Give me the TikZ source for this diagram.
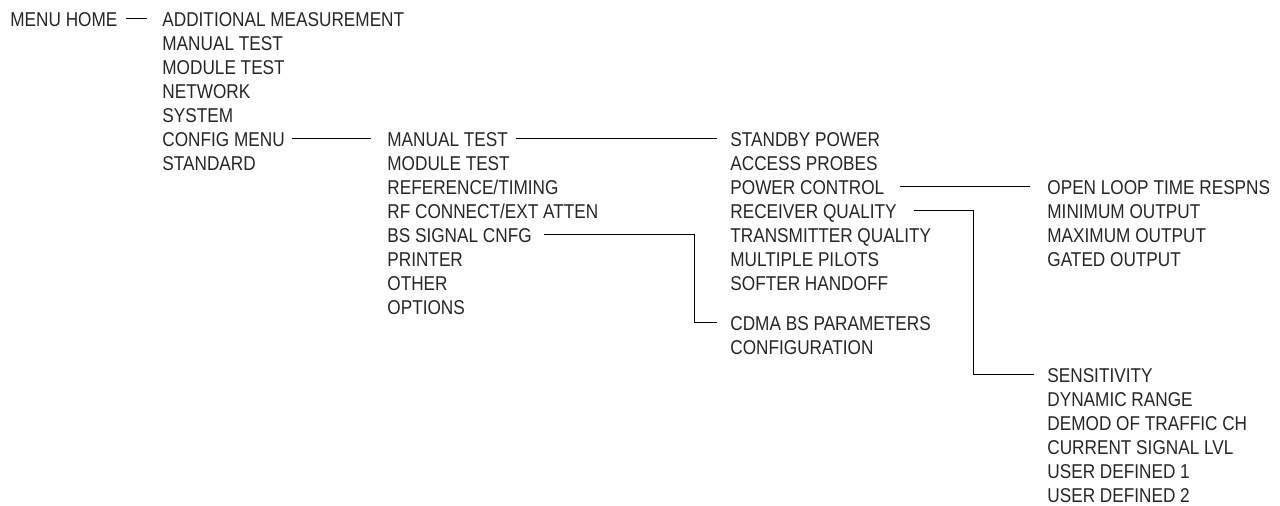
\documentclass[tikz,border=0pt]{standalone}
\usepackage{fontspec}
\setmainfont{Liberation Sans}[FakeStretch=0.86]
\tikzset{
  item/.style={anchor=west, inner sep=0pt, text height=0.72em, text depth=0pt,
    text=black!85, font=\fontsize{10pt}{12pt}\selectfont},
  link/.style={line width=0.5pt, shorten <=4pt, shorten >=7pt}
}
\begin{document}
\begin{tikzpicture}[x=0.5pt, y=-0.5pt]
\useasboundingbox (0,0) rectangle (1280,506);
\node[item] (home) at (10,19) {MENU HOME};
\foreach \t [count=\i from 0] in {ADDITIONAL MEASUREMENT, MANUAL TEST, MODULE TEST, NETWORK, SYSTEM, CONFIG MENU, STANDARD}
{
    \node[item] (main\i) at (162,{19+24*\i}) {\t};
}
\foreach \t [count=\i from 5] in {MANUAL TEST, MODULE TEST, REFERENCE/TIMING, RF CONNECT/EXT ATTEN, BS SIGNAL CNFG, PRINTER, OTHER, OPTIONS}
{
    \node[item] (cfg\i) at (387,{19+24*\i}) {\t};
}
\foreach \t [count=\i from 5] in {STANDBY POWER, ACCESS PROBES, POWER CONTROL, RECEIVER QUALITY, TRANSMITTER QUALITY, MULTIPLE PILOTS, SOFTER HANDOFF}
{
    \node[item] (test\i) at (730,{19+24*\i}) {\t};
}
\node[item] (cdma) at (730,323) {CDMA BS PARAMETERS};
\node[item] (conf) at (730,347) {CONFIGURATION};
\foreach \t [count=\i from 7] in {OPEN LOOP TIME RESPNS, MINIMUM OUTPUT, MAXIMUM OUTPUT, GATED OUTPUT}
{
    \node[item] (pwr\i) at (1047,{19+24*\i}) {\t};
}
\foreach \t [count=\i from 0] in {SENSITIVITY, DYNAMIC RANGE, DEMOD OF TRAFFIC CH, CURRENT SIGNAL LVL, USER DEFINED 1, USER DEFINED 2}
{
    \node[item] (rx\i) at (1047,{375+24*\i}) {\t};
}

% connectors
\coordinate (jogA) at (694,0);
\coordinate (jogB) at (973,0);
\draw[link, shorten >=7.5pt] (home.east) -- (main0.west);
\draw[link, shorten <=3.5pt, shorten >=8pt] (main5.east) -- (cfg5.west);
\draw[link, shorten >=6.5pt] (cfg5.east) -- (test5.west);
\draw[link, shorten <=6pt, shorten >=6.5pt] (cfg9.east) -| (jogA |- cdma.west) -- (cdma.west);
\draw[link, shorten <=7.5pt, shorten >=8.5pt] (test7.east) -- (pwr7.west);
\draw[link, shorten <=8.5pt, shorten >=6.5pt] (test8.east) -| (jogB |- rx0.west) -- (rx0.west);
\end{tikzpicture}
\end{document}
